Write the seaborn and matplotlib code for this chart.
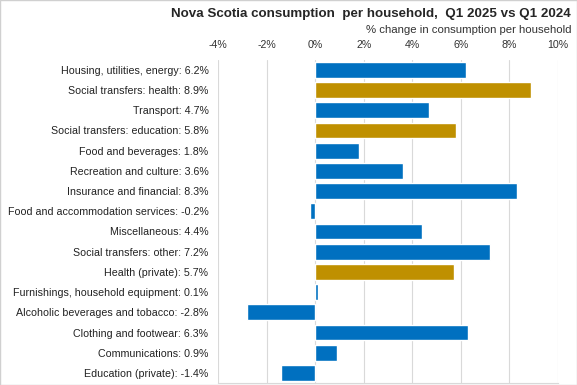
import numpy as np
import pandas as pd
import matplotlib.pyplot as plt
import seaborn as sns

# Data
categories = [
    "Housing, utilities, energy", "Social transfers: health", "Transport",
    "Social transfers: education", "Food and beverages", "Recreation and culture",
    "Insurance and financial", "Food and accommodation services", "Miscellaneous",
    "Social transfers: other", "Health (private)", "Furnishings, household equipment",
    "Alcoholic beverages and tobacco", "Clothing and footwear", "Communications",
    "Education (private)",
]
values = [6.2, 8.9, 4.7, 5.8, 1.8, 3.6, 8.3, -0.2, 4.4, 7.2, 5.7, 0.1, -2.8, 6.3, 0.9, -1.4]
groups = ["private", "transfer", "private", "transfer", "private", "private",
          "private", "private", "private", "private", "transfer", "private",
          "private", "private", "private", "private"]

labels = [f"{c}: {v:.1f}%" for c, v in zip(categories, values)]
df = pd.DataFrame({"label": labels, "value": values, "group": groups})

sns.set_style("white")
plt.rcParams['font.family'] = ['Liberation Sans', 'DejaVu Sans']

palette = {"private": "#0070C0", "transfer": "#BF9000"}

fig = plt.figure(figsize=(5.77, 3.85), dpi=100)
ax = fig.add_axes([0.378, 0.005, 0.589, 0.84])

sns.barplot(data=df, y="label", x="value", hue="group", palette=palette,
            dodge=False, legend=False, width=0.78, saturation=1, ax=ax, orient="h")

ax.set_xlim(-4, 10)
ax.set_xticks(np.arange(-4, 11, 2))
ax.set_xticklabels([f"{t}%" for t in range(-4, 11, 2)])
ax.xaxis.tick_top()
ax.tick_params(axis="x", length=0, labelsize=7.7, colors="#333333", pad=7)
ax.tick_params(axis="y", length=0, labelsize=7.7, colors="#222222", pad=7)
ax.set_xlabel("")
ax.set_ylabel("")
ax.grid(axis="x", color="#d9d9d9", linewidth=0.8)
ax.set_axisbelow(True)
for s in ["top", "left", "right"]:
    ax.spines[s].set_visible(False)
ax.spines["bottom"].set_color("#d9d9d9")

fig.text(0.99, 0.964, "Nova Scotia consumption  per household,  Q1 2025 vs Q1 2024",
         ha="right", va="center", fontsize=9.6, fontweight="bold")
fig.text(0.99, 0.922, "% change in consumption per household",
         ha="right", va="center", fontsize=8.2, color="#333333")

fig.patches.append(plt.Rectangle((0, 0), 1, 1, transform=fig.transFigure,
                                 fill=False, edgecolor="#d0d0d0", linewidth=1))

fig.savefig("out.png", dpi=100)
